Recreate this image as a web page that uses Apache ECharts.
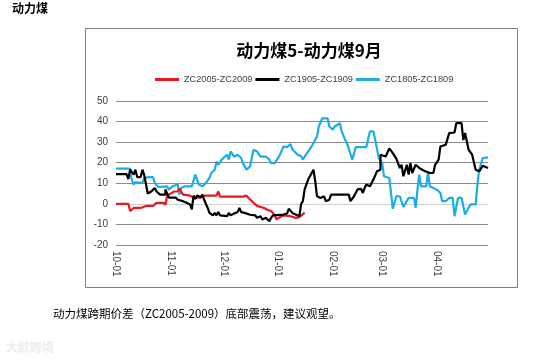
<!DOCTYPE html>
<html>
<head>
<meta charset="utf-8">
<script src="https://cdn.jsdelivr.net/npm/echarts@6/dist/echarts.min.js"></script>
<style>html,body{margin:0;padding:0;background:#fff;}#c{width:550px;height:361px;}</style>
</head>
<body>
<div id="c"></div>
<script>
// month labels and lengths for the Oct-Apr day axis
const monthNames = ['10','11','12','01','02','03','04'];
const monthDays = [31,30,31,31,28,31,30];
const seriesNames = ['ZC2005-ZC2009','ZC1905-ZC1909','ZC1805-ZC1809'];
const yTicks = [-20,-10,0,10,20,30,40,50];

// [days since 10-01, spread]
const zc2005 = [[0,0],[7,0],[8,-3.5],[10,-2],[14,-2],[17,-1],[21,-1],[23,0.5],[27,0.5],[28,-0.5],[29,4],[33,6],[35,6],[36,7.5],[38,4.5],[42,4],[44,3],[48,3],[50,4],[57,4],[58,6],[59,3.5],[72,3.5],[74,4],[75,3],[78,0.5],[80,-1],[84,-2],[86,-3],[88,-3.5],[90,-5.5],[91,-7.5],[93,-6.5],[95,-5.6],[99,-6],[102,-6.8],[104,-6.5],[106,-5],[107,-4.3]];
const zc1905 = [[0,14.5],[6,14.5],[7,12],[8,16.6],[10,14.2],[11,16.6],[12,13],[14,13],[15,16.6],[16,14],[17,9.5],[18,5],[19,5],[20,6],[22,7.7],[23,6],[25,4.5],[28,4.5],[28,7],[30,3],[34,3],[35,2],[38,1.3],[40,0.5],[42,-0.3],[43,-2.7],[44,4],[45,2.4],[46,4],[48,3.3],[49,4.5],[50,2],[52,-2],[53,-4.4],[55,-5.6],[56,-4.4],[57,-5.6],[58,-3.9],[59,-5.6],[63,-6],[64,-4.4],[65,-5.6],[67,-4.7],[69,-4],[70,-2],[71,-4],[73,-4.4],[76,-5.3],[79,-5.6],[80,-6.8],[82,-6],[83,-7.6],[85,-6.8],[86,-7.6],[87,-8.4],[88,-6.8],[89,-5.6],[90,-5.2],[95,-5.2],[97,-4.7],[98,-2.4],[100,-4.4],[101,-5],[104,-6],[105,0],[106,1.3],[107,7],[108,7.8],[109,11.8],[110,11.8],[112,16.6],[113,11],[114,3.7],[116,2.9],[118,3.7],[119,1.3],[121,2],[122,4.5],[132,4.5],[133,1.3],[135,3.7],[137,7],[139,7.3],[140,5.3],[141,7.7],[142,9.4],[144,8.5],[146,11.8],[148,15.8],[150,16.6],[150,23.9],[153,23],[155,27],[157,24.7],[159,22],[161,17.4],[162,19],[163,13.4],[165,19],[166,14.2],[167,19.8],[168,15],[170,19],[172,17.4],[175,16],[178,15],[180,15],[181,19],[183,21.5],[184,27.9],[187,28.7],[189,34.4],[192,34.7],[193,39.2],[196,39.2],[197,31],[198,34.4],[200,26.3],[202,23.9],[204,16.6],[206,15.8],[208,18.5],[211,17.4]];
const zc1805 = [[0,17.1],[8,17.1],[8,15],[9,11.8],[10,9.4],[11,10.5],[15,10.2],[16,12.6],[17,12],[19,13],[21,13],[22,10.2],[24,8.2],[29,8.5],[30,6.9],[32,8.5],[35,9.4],[36,4.5],[37,7.7],[39,8.5],[43,8.5],[45,14.2],[47,9.4],[49,8.5],[51,10.2],[53,12.6],[54,15],[56,16.6],[57,20.6],[58,19],[60,21.5],[61,22.3],[63,23.9],[64,21.5],[65,25.5],[67,23],[69,23.9],[71,22.3],[72,19.8],[74,16.6],[76,18.2],[77,18.2],[78,26.3],[80,25.5],[81,26.3],[82,23],[85,23],[87,21.5],[88,19.8],[90,19.8],[92,22.3],[93,23.9],[95,27.9],[97,27.6],[99,29],[100,26.6],[101,26.3],[103,23.9],[105,23.2],[106,21.5],[107,23],[109,25.5],[111,27.9],[112,27.9],[114,32.7],[115,37.6],[117,41.6],[120,41.6],[121,37.6],[123,36],[124,37.6],[125,38],[127,39.2],[128,35.2],[130,31.1],[131,29.5],[132,30.3],[134,21.5],[135,21.5],[136,27.6],[142,27.6],[144,35.2],[146,35.2],[148,27.1],[149,22.3],[151,19.8],[152,13.4],[155,12.6],[156,5.3],[157,-2.4],[158,-2.4],[159,3.7],[161,3.7],[163,-1.5],[164,-1.5],[166,2.9],[169,2.9],[170,-1.9],[171,6.9],[172,14.2],[173,8.5],[176,8.5],[177,15.8],[178,8.5],[179,7.7],[182,6.9],[184,5.3],[185,1.3],[187,1.3],[189,2.9],[191,2.9],[192,-6],[193,-6],[194,2.9],[196,2.9],[198,-5.2],[199,-4.4],[201,-0.3],[204,-0.3],[205,9.4],[206,16.6],[208,22.3],[211,22.6]];

const categories = [];
monthNames.forEach((m, i) => {
  for (let d = 1; d <= monthDays[i]; d++) categories.push(m + '-' + (d < 10 ? '0' + d : d));
});
const toCat = arr => arr.map(([d, v]) => [categories[d], v]);

const chart = echarts.init(document.getElementById('c'), null, {renderer: 'canvas'});
const gridColors = yTicks.map(t => t === 0 ? '#d0d0d0' : '#8a8a8a');
const font = '"Noto Sans CJK SC", "Liberation Sans", sans-serif';

chart.setOption({
  animation: false,
  backgroundColor: '#fff',
  title: {
    text: '动力煤5-动力煤9月',
    left: 304, top: 37, textAlign: 'center',
    textStyle: {fontSize: 17, fontWeight: 'bold', color: '#000', fontFamily: font}
  },
  legend: {
    data: seriesNames,
    left: 150, top: 70,
    icon: 'rect', itemWidth: 24, itemHeight: 3, itemGap: 3,
    textStyle: {fontSize: 9.2, color: '#404040', fontFamily: '"Liberation Sans", sans-serif'}
  },
  grid: {left: 116, right: 62, top: 101, bottom: 116},
  xAxis: {
    type: 'category',
    data: categories,
    boundaryGap: false,
    axisLine: {show: false, onZero: false},
    axisTick: {show: false},
    splitLine: {show: false},
    axisLabel: {
      interval: (i, v) => v.slice(3) === '01',
      rotate: -90, margin: 6,
      fontSize: 10, color: '#404040', fontFamily: '"Liberation Sans", sans-serif'
    }
  },
  yAxis: {
    type: 'value', min: -20, max: 50, interval: 10,
    axisLine: {show: false}, axisTick: {show: false},
    axisLabel: {fontSize: 10, color: '#404040', margin: 8, fontFamily: '"Liberation Sans", sans-serif'},
    splitLine: {lineStyle: {color: gridColors, width: 1}}
  },
  series: [
    {name: seriesNames[0], type: 'line', data: toCat(zc2005), showSymbol: false, symbol: 'none', lineStyle: {color: '#e8191f', width: 2.2}, itemStyle: {color: '#e8191f'}, z: 3},
    {name: seriesNames[1], type: 'line', data: toCat(zc1905), showSymbol: false, symbol: 'none', lineStyle: {color: '#000000', width: 2.2}, itemStyle: {color: '#000000'}, z: 4},
    {name: seriesNames[2], type: 'line', data: toCat(zc1805), showSymbol: false, symbol: 'none', lineStyle: {color: '#1badE4', width: 2.2}, itemStyle: {color: '#1badE4'}, z: 2}
  ],
  graphic: [
    {type: 'rect', shape: {x: 85.5, y: 28.5, width: 432, height: 259}, style: {fill: 'none', stroke: '#808080', lineWidth: 1}, silent: true},
    {type: 'text', left: 12, top: 2, style: {text: '动力煤', font: 'bold 12px "Noto Sans CJK SC", sans-serif', fill: '#000'}},
    {type: 'text', left: 53, top: 308, style: {text: '动力煤跨期价差（ZC2005-2009）底部震荡，建议观望。', font: '11.5px "Noto Sans CJK SC", sans-serif', fill: '#000'}},
    {type: 'text', left: 6, top: 341, style: {text: '大欧跨境', font: 'bold 12px "Noto Sans CJK SC", sans-serif', fill: '#ededed'}}
  ]
});
</script>
</body>
</html>
